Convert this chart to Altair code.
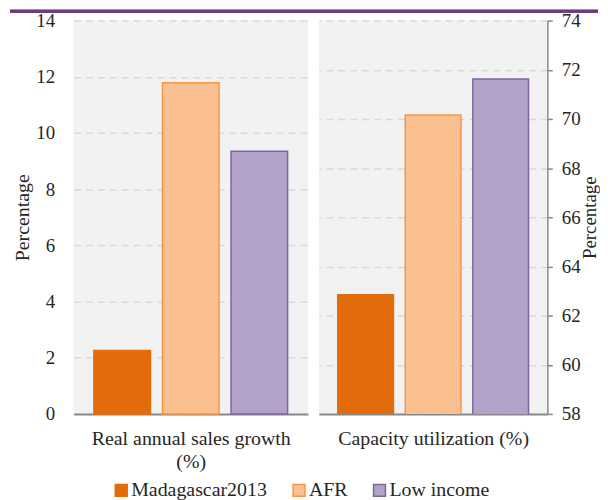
import altair as alt
import pandas as pd

groups = ["Madagascar2013", "AFR", "Low income"]
sales_growth = [2.26, 11.79, 9.35]
capacity = [62.85, 70.16, 71.62]
fills = ["#E36C0A", "#FAC090", "#B3A2C7"]
strokes = ["#E36C0A", "#F79646", "#8064A2"]
left_ticks = [0, 2, 4, 6, 8, 10, 12, 14]
right_ticks = [58, 60, 62, 64, 66, 68, 70, 72, 74]

FONT = "Liberation Serif"
TXT = "#262626"

df1 = pd.DataFrame({"group": groups, "value": sales_growth})
df2 = pd.DataFrame({"group": groups, "value": capacity})

color_enc = alt.Color("group:N", sort=groups, scale=alt.Scale(domain=groups, range=fills), title=None)
stroke_enc = alt.Stroke("group:N", sort=groups, scale=alt.Scale(domain=groups, range=strokes), title=None)


def x_enc(title, po):
    return alt.X(
        "group:N", sort=groups,
        scale=alt.Scale(paddingInner=0.175, paddingOuter=po),
        axis=alt.Axis(title=title, labels=False, ticks=False, grid=False,
                      domainColor="#898989", domainWidth=2,
                      titleFont=FONT, titleFontSize=20, titleFontWeight="normal",
                      titleColor=TXT, titlePadding=15, titleLineHeight=23),
    )


left_bars = alt.Chart(df1).mark_bar(strokeWidth=1.5).encode(
    x=x_enc(["Real annual sales growth", "(%)"], 0.297),
    y=alt.Y("value:Q", scale=alt.Scale(domain=[0, 14], nice=False),
            axis=alt.Axis(orient="left", values=left_ticks, title="Percentage",
                          domain=False, ticks=False, labelPadding=19,
                          titlePadding=3)),
    color=color_enc,
    stroke=stroke_enc,
)

top_band = alt.Chart(df1).mark_rule(color="#6B3D7B", strokeWidth=3).encode(
    x=alt.value(-64), x2=alt.value(528), y=alt.value(-9.5)
)

left = alt.layer(top_band, left_bars).properties(width=236, height=396)

right = alt.Chart(df2).mark_bar(strokeWidth=1.5, clip=True).encode(
    x=x_enc("Capacity utilization (%)", 0.279),
    y=alt.Y("value:Q", scale=alt.Scale(domain=[58, 74], nice=False, zero=False),
            axis=alt.Axis(orient="right", values=right_ticks, title="Percentage",
                          domain=True, domainColor="#898989", domainWidth=1.5,
                          ticks=True, tickColor="#898989", tickSize=5, tickWidth=1.5,
                          labelPadding=9, titlePadding=0, titleAngle=270,
                          titleBaseline="top", titleFontSize=19)),
    color=color_enc,
    stroke=stroke_enc,
).properties(width=230, height=396)

chart = alt.hconcat(left, right, spacing=11, bounds="flush").properties(
    padding=0
).configure_view(
    fill="#F2F2F2", strokeWidth=0
).configure_axis(
    labelFont=FONT, labelFontSize=19, labelColor=TXT,
    titleFont=FONT, titleFontSize=20, titleFontWeight="normal", titleColor=TXT,
    gridColor="#D9D9D9", gridDash=[7, 5], gridWidth=1.5,
).configure_axisY(
    grid=True
).configure_legend(
    orient="none", legendX=38, legendY=463, direction="horizontal",
    symbolType="square", symbolSize=144, symbolStrokeWidth=1.5,
    labelFont=FONT, labelFontSize=20, labelColor=TXT,
    labelOffset=0, columnPadding=22, labelLimit=300,
)

chart.save("out.html", embed_options={"renderer": "svg", "actions": False})
